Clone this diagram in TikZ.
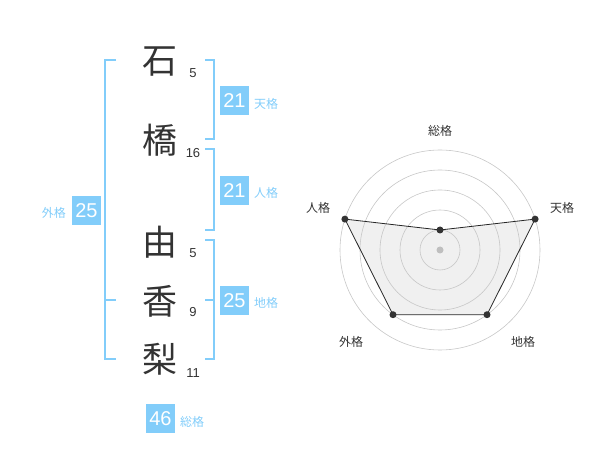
\documentclass[tikz,border=0pt]{standalone}
\usepackage{fontspec}
\setmainfont{Liberation Sans}
\newfontfamily\jp{Noto Sans CJK JP}
\begin{document}
\begin{tikzpicture}[x=1pt,y=-1pt,
  kanji/.style={font=\jp\fontsize{35}{35}\selectfont, text=black!80, inner sep=0pt},
  strokes/.style={font=\fontsize{13}{13}\selectfont, text=black!80, inner sep=0pt},
  valbox/.style={fill=boxblue, text=white, minimum width=29pt, minimum height=29pt, inner sep=0pt, font=\fontsize{20}{20}\selectfont},
  lbl/.style={font=\jp\fontsize{12}{12}\selectfont, text=boxblue, inner sep=0pt},
  brk/.style={draw=boxblue, line width=1.5pt},
  ring/.style={draw=black!22, line width=0.6pt},
  rlbl/.style={font=\jp\fontsize{12}{12}\selectfont, text=black!80, inner sep=0pt},
  pt/.style={circle, fill=black!80, minimum size=7pt, inner sep=0pt},
]
\definecolor{boxblue}{HTML}{82CDFA}
\useasboundingbox (0,0) rectangle (600,470);
% kanji
\node[kanji] (k1) at (160,62) {石};
\node[kanji] (k2) at (160,140) {橋};
\node[kanji] (k3) at (160,242) {由};
\node[kanji] (k4) at (160,301) {香};
\node[kanji] (k5) at (160,359) {梨};
\node[strokes] (s1) at (193,73) {5};
\node[strokes] (s2) at (193,153) {16};
\node[strokes] (s3) at (193,253) {5};
\node[strokes] (s4) at (193,312) {9};
\node[strokes] (s5) at (193,373) {11};
% brackets
\draw[brk] (205,60) -- (214,60) -- (214,139) -- (205,139);
\draw[brk] (205,149) -- (214,149) -- (214,230) -- (205,230);
\draw[brk] (205,240) -- (214,240) -- (214,359) -- (205,359);
\draw[brk] (205,300) -- (214,300);
\draw[brk] (116,60) -- (105,60) -- (105,359) -- (116,359);
\draw[brk] (105,300) -- (116,300);
% value boxes
\node[valbox] (ten) at (234.5,100.5) {21};
\node[lbl, anchor=west] (tenl) at (254,104) {天格};
\node[valbox] (jin) at (234.5,190.5) {21};
\node[lbl, anchor=west] (jinl) at (254,193) {人格};
\node[valbox] (chi) at (234.5,300.5) {25};
\node[lbl, anchor=west] (chil) at (254,303) {地格};
\node[valbox] (gai) at (86.5,210.5) {25};
\node[lbl, anchor=east] (gail) at (66,213) {外格};
\node[valbox] (sou) at (160.5,418.5) {46};
\node[lbl, anchor=west] (soul) at (180,422) {総格};
% radar
\coordinate (c) at (440,250);
\path (c) ++(0,-20) coordinate (pS);
\path (c) ++(95.1,-30.9) coordinate (pT);
\path (c) ++(47.0,64.7) coordinate (pC);
\path (c) ++(-47.0,64.7) coordinate (pG);
\path (c) ++(-95.1,-30.9) coordinate (pJ);
\fill[black!6] (pS) -- (pT) -- (pC) -- (pG) -- (pJ) -- cycle;
\foreach \r in {20,40,60,80,100} \draw[ring] (c) circle (\r);
\fill[black!25] (c) circle (3.5);
\draw[black!85, line width=0.8pt] (pS) -- (pT) -- (pC) -- (pG) -- (pJ) -- cycle;
\node[pt] (nS) at (pS) {};
\node[pt] (nT) at (pT) {};
\node[pt] (nC) at (pC) {};
\node[pt] (nG) at (pG) {};
\node[pt] (nJ) at (pJ) {};
\node[rlbl] (rS) at (440,131) {総格};
\node[rlbl] (rT) at (562,208) {天格};
\node[rlbl] (rJ) at (318,208) {人格};
\node[rlbl] (rG) at (351,342) {外格};
\node[rlbl] (rC) at (523,342) {地格};
\end{tikzpicture}
\end{document}
